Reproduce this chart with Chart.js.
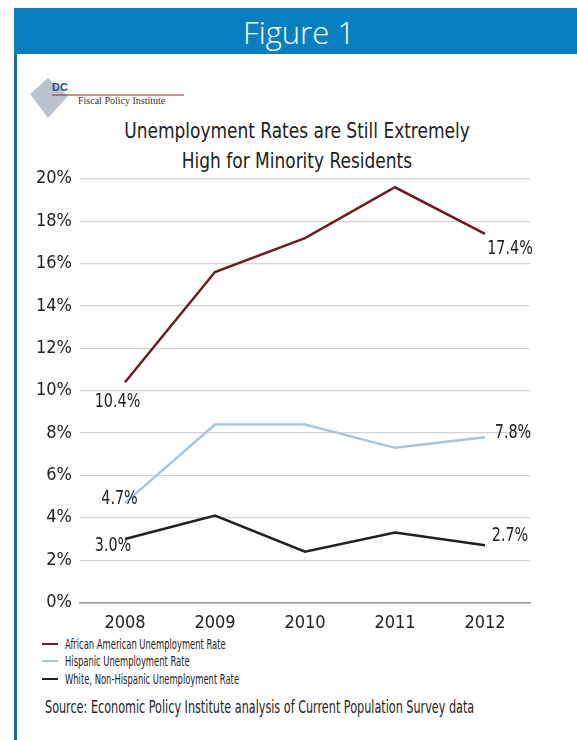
<!DOCTYPE html>
<html>
<head>
<meta charset="utf-8">
<script src="https://cdn.jsdelivr.net/npm/chart.js@4.4.1/dist/chart.umd.min.js"></script>
<style>
  body { margin: 0; background: #fff; width: 577px; height: 740px; position: relative; overflow: hidden;
         font-family: "DejaVu Sans Condensed", "Liberation Sans Narrow", sans-serif; }
  .header { position: absolute; left: 14px; top: 8px; width: 563px; height: 46px; background: #0a7fc0; }
  .header div { position: absolute; left: 0; width: 570px; top: 0; text-align: center; color: #fff;
                font-family: "Open Sans", sans-serif; font-size: 31px; line-height: 48px; font-weight: 300; }
  .leftbar { position: absolute; left: 14px; top: 54px; width: 3px; height: 686px; background: #1868b4; }
  .logo { position: absolute; left: 28px; top: 76px; }
  .title { position: absolute; left: 8px; width: 577px; top: 116px; text-align: center; color: #222; }
  .title span { display: inline-block; font-size: 21px; line-height: 30px; transform: scaleX(0.9); white-space: nowrap; }
  .wrap { position: absolute; left: 0; top: 160px; width: 577px; height: 470px; }
  .legend { position: absolute; left: 42px; top: 634px; color: #222; }
  .legend div { height: 17.5px; line-height: 18px; white-space: nowrap; }
  .legend i { display: inline-block; width: 16px; height: 2px; vertical-align: middle; margin-right: 7px; }
  .legend span { display: inline-block; font-size: 13.5px; transform: scaleX(0.69); transform-origin: left center; vertical-align: middle; }
  .source { position: absolute; left: 45px; top: 697px; font-size: 17px; color: #222; white-space: nowrap;
            transform: scaleX(0.734); transform-origin: left center; }
</style>
</head>
<body>
<div class="header"><div>Figure 1</div></div>
<div class="leftbar"></div>
<div class="logo">
  <svg width="170" height="46">
    <polygon points="2,18 20,2 40,20 20,42" fill="#b9c3d0"/>
    <text x="24" y="15" font-family="Liberation Sans, sans-serif" font-weight="bold" font-size="11" fill="#1f4e8c">DC</text>
    <line x1="24" y1="19" x2="156" y2="19" stroke="#8a2b2b" stroke-width="1"/>
    <text x="50" y="28" font-family="Liberation Serif, serif" font-size="10" fill="#333">Fiscal Policy Institute</text>
  </svg>
</div>
<div class="title"><span>Unemployment Rates are Still Extremely</span><br><span>High for Minority Residents</span></div>
<div class="wrap"><canvas id="chart"></canvas></div>
<div class="legend">
  <div><i style="background:#6e1c22"></i><span>African American Unemployment Rate</span></div>
  <div><i style="background:#a9c5dd"></i><span>Hispanic Unemployment Rate</span></div>
  <div><i style="background:#231f20"></i><span>White, Non-Hispanic Unemployment Rate</span></div>
</div>
<div class="source">Source: Economic Policy Institute analysis of Current Population Survey data</div>
<script>
const years = ['2008', '2009', '2010', '2011', '2012'];
const africanAmerican = [10.4, 15.6, 17.2, 19.6, 17.4];
const hispanic = [4.7, 8.4, 8.4, 7.3, 7.8];
const white = [3.0, 4.1, 2.4, 3.3, 2.7];
const yTicks = [0, 2, 4, 6, 8, 10, 12, 14, 16, 18, 20];

const fontFamily = '"DejaVu Sans Condensed", "Liberation Sans Narrow", sans-serif';

// value labels on the first and last point of each line
const endLabels = {
    id: 'endLabels',
    afterDatasetsDraw(chart) {
        const ctx = chart.ctx;
        const offsets = [
            { first: [-7.5, 20], last: [25, 15] },
            { first: [-5.5, -4], last: [28, -4] },
            { first: [-12, 7], last: [25, -9.5] }
        ];
        chart.data.datasets.forEach((ds, i) => {
            const meta = chart.getDatasetMeta(i);
            const pts = [meta.data[0], meta.data[meta.data.length - 1]];
            const vals = [ds.data[0], ds.data[ds.data.length - 1]];
            const offs = [offsets[i].first, offsets[i].last];
            pts.forEach((p, k) => {
                ctx.save();
                ctx.translate(p.x + offs[k][0], p.y + offs[k][1]);
                ctx.scale(0.84, 1);
                ctx.font = '19px ' + fontFamily;
                ctx.fillStyle = '#222';
                ctx.textAlign = 'center';
                ctx.textBaseline = 'middle';
                ctx.fillText(vals[k].toFixed(1) + '%', 0, 0);
                ctx.restore();
            });
        });
    }
};

new Chart(document.getElementById('chart'), {
    type: 'line',
    data: {
        labels: years,
        datasets: [
            { label: 'African American Unemployment Rate', data: africanAmerican, borderColor: '#6e1c22', borderWidth: 2.5, pointRadius: 0, tension: 0 },
            { label: 'Hispanic Unemployment Rate', data: hispanic, borderColor: '#a9c5dd', borderWidth: 2.5, pointRadius: 0, tension: 0 },
            { label: 'White, Non-Hispanic Unemployment Rate', data: white, borderColor: '#231f20', borderWidth: 2.5, pointRadius: 0, tension: 0 }
        ]
    },
    options: {
        responsive: true,
        maintainAspectRatio: false,
        animation: false,
        layout: { padding: { top: 16, right: 47, bottom: 0, left: 0 } },
        plugins: { legend: { display: false }, tooltip: { enabled: false } },
        scales: {
            x: {
                offset: true,
                grid: { display: false, drawTicks: false },
                border: { color: '#9a9a9a', width: 1.5 },
                ticks: { color: '#222', font: { family: fontFamily, size: 18 }, padding: 10 },
                afterFit(scale) { scale.height = 27.5; }
            },
            y: {
                min: 0, max: 20,
                afterBuildTicks(scale) { scale.ticks = yTicks.map(v => ({ value: v })); },
                grid: { color: '#d4d4d4', lineWidth: 1.2, drawTicks: false },
                border: { display: false },
                ticks: { color: '#222', font: { family: fontFamily, size: 18 }, padding: 8, callback: v => v + '%' },
                afterFit(scale) { scale.width = 80; }
            }
        }
    },
    plugins: [endLabels]
});
</script>
</body>
</html>
